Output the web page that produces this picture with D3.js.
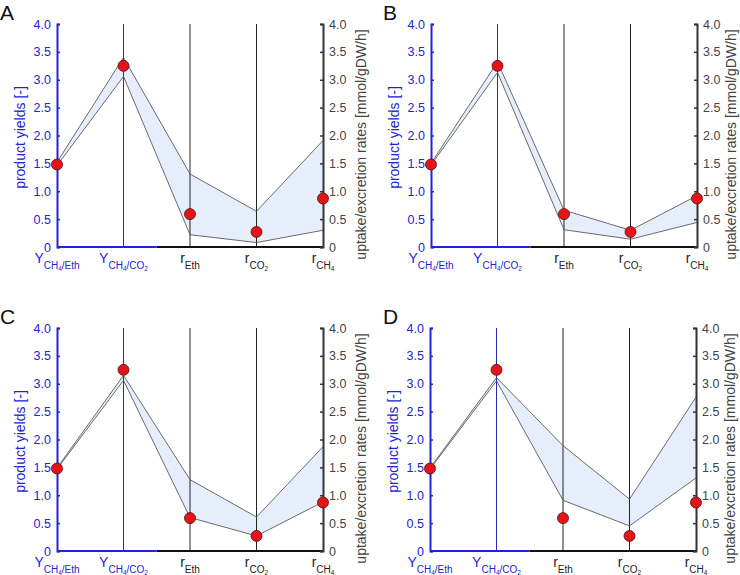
<!DOCTYPE html>
<html>
<head>
<meta charset="utf-8">
<script src="https://cdn.jsdelivr.net/npm/d3@7"></script>
<style>
  body { margin: 0; background: #fff; }
  text { font-family: "Liberation Sans", Arial, sans-serif; }
</style>
</head>
<body>
<div id="chart"></div>
<script>
var categories = ["Y_CH4/Eth", "Y_CH4/CO2", "r_Eth", "r_CO2", "r_CH4"];
var measured = [1.48, 3.25, 0.59, 0.27, 0.87];
var panelNames = ["A", "B", "C", "D"];
var lowerA = [1.46, 3.06, 0.22, 0.08, 0.30];
var upperA = [1.52, 3.40, 1.31, 0.64, 1.91];
var lowerB = [1.47, 3.13, 0.31, 0.14, 0.44];
var upperB = [1.50, 3.32, 0.66, 0.30, 0.92];
var lowerC = [1.47, 3.06, 0.60, 0.27, 0.88];
var upperC = [1.49, 3.15, 1.28, 0.61, 1.87];
var lowerD = [1.47, 3.05, 0.91, 0.45, 1.31];
var upperD = [1.49, 3.11, 1.89, 0.93, 2.76];
var yTicks = [0, 0.5, 1, 1.5, 2, 2.5, 3, 3.5, 4];

var bands = [[lowerA, upperA], [lowerB, upperB], [lowerC, upperC], [lowerD, upperD]];

var width = 740, height = 575;
var blue = "#2323d6", navy = "#2a2ab0", dark = "#333";
var pw = 266, ph = 223;
var origins = [[57, 24], [431, 24], [57, 328], [430, 328]];
var letterX = [0, 383, 0, 383];

var svg = d3.select("#chart").append("svg")
    .attr("width", width)
    .attr("height", height);

var fmt = function(d) { return d === 0 ? "0" : d.toFixed(1); };

panelNames.forEach(function(name, p) {
  var ox = origins[p][0], oy = origins[p][1];
  var g = svg.append("g").attr("transform", "translate(" + ox + "," + oy + ")");

  var x = d3.scalePoint().domain(categories).range([0, pw]);
  var y = d3.scaleLinear().domain([0, 4]).range([ph, 0]);

  // panel letter
  svg.append("text")
    .attr("x", letterX[p])
    .attr("y", oy - 4)
    .attr("font-size", 21)
    .attr("fill", "#111")
    .text(name);

  // band
  var lo = bands[p][0], hi = bands[p][1];
  var area = d3.area()
    .x(function(d, i) { return x(categories[i]); })
    .y0(function(d, i) { return y(lo[i]); })
    .y1(function(d, i) { return y(hi[i]); });
  g.append("path").datum(lo)
    .attr("d", area)
    .attr("fill", "#e5eefa");

  // vertical lines at inner categories
  categories.slice(1, 4).forEach(function(c, i) {
    g.append("line")
      .attr("x1", x(c)).attr("x2", x(c))
      .attr("y1", 0).attr("y2", ph)
      .attr("stroke", i === 0 ? navy : "#222")
      .attr("stroke-width", 1);
  });

  var line = d3.line().x(function(d, i) { return x(categories[i]); }).y(function(d) { return y(d); });
  [lo, hi].forEach(function(s) {
    g.append("path").datum(s)
      .attr("d", line)
      .attr("fill", "none")
      .attr("stroke", "#5a5a5a")
      .attr("stroke-width", 0.9);
  });

  // bottom axis: blue half then black
  var mid = (x(categories[1]) + x(categories[2])) / 2;
  g.append("line").attr("x1", mid).attr("x2", pw).attr("y1", ph).attr("y2", ph)
    .attr("stroke", "#111").attr("stroke-width", 2);
  g.append("line").attr("x1", 0).attr("x2", mid).attr("y1", ph).attr("y2", ph)
    .attr("stroke", blue).attr("stroke-width", 2);

  // left axis
  var la = g.append("g").call(d3.axisLeft(y).tickValues(yTicks).tickFormat(fmt).tickSize(-3).tickPadding(6));
  la.select(".domain").attr("stroke", blue).attr("stroke-width", 2);
  la.selectAll(".tick line").attr("stroke", blue).attr("stroke-width", 1.5);
  la.selectAll(".tick text").attr("fill", blue).attr("font-size", 12.5)
    .attr("font-family", "Liberation Sans, Arial, sans-serif");

  // right axis
  var ra = g.append("g").attr("transform", "translate(" + pw + ",0)")
    .call(d3.axisRight(y).tickValues(yTicks).tickFormat(fmt).tickSize(-3).tickPadding(6));
  ra.select(".domain").attr("stroke", dark).attr("stroke-width", 2);
  ra.selectAll(".tick line").attr("stroke", dark).attr("stroke-width", 1.5);
  ra.selectAll(".tick text").attr("fill", "#444").attr("font-size", 12.5)
    .attr("font-family", "Liberation Sans, Arial, sans-serif");

  // axis titles
  g.append("text")
    .attr("transform", "translate(-32," + (ph / 2 + 2) + ") rotate(-90)")
    .attr("text-anchor", "middle")
    .attr("font-size", 14)
    .attr("fill", blue)
    .text("product yields [-]");
  g.append("text")
    .attr("transform", "translate(" + (pw + (p % 2 ? 39 : 43)) + "," + (ph / 2 + 9) + ") rotate(-90)")
    .attr("text-anchor", "middle")
    .attr("font-size", 14)
    .attr("fill", "#444")
    .text("uptake/excretion rates [mmol/gDW/h]");

  // category labels with subscripts (dy keeps one text chunk so centring holds)
  categories.forEach(function(c, i) {
    var parts = c.split("_");
    var col = i < 2 ? blue : "#222";
    var t = g.append("text")
      .attr("x", x(c)).attr("y", ph + 16)
      .attr("text-anchor", "middle")
      .attr("fill", col)
      .attr("font-size", 14);
    t.append("tspan").text(parts[0]);
    var shift = 0;
    var chunks = parts[1].split(/(\d)/).filter(function(s) { return s.length; });
    chunks.forEach(function(ch) {
      var target = /^\d$/.test(ch) ? 8 : 6;
      t.append("tspan")
        .attr("dy", target - shift)
        .attr("font-size", /^\d$/.test(ch) ? 6.5 : 10)
        .text(ch);
      shift = target;
    });
  });

  // measured points
  g.selectAll("circle.pt").data(measured).enter().append("circle")
    .attr("class", "pt")
    .attr("cx", function(d, i) { return x(categories[i]); })
    .attr("cy", function(d) { return y(d); })
    .attr("r", 5.5)
    .attr("fill", "#e3151b")
    .attr("stroke", "#5a0a0a")
    .attr("stroke-width", 0.8);
});
</script>
</body>
</html>
